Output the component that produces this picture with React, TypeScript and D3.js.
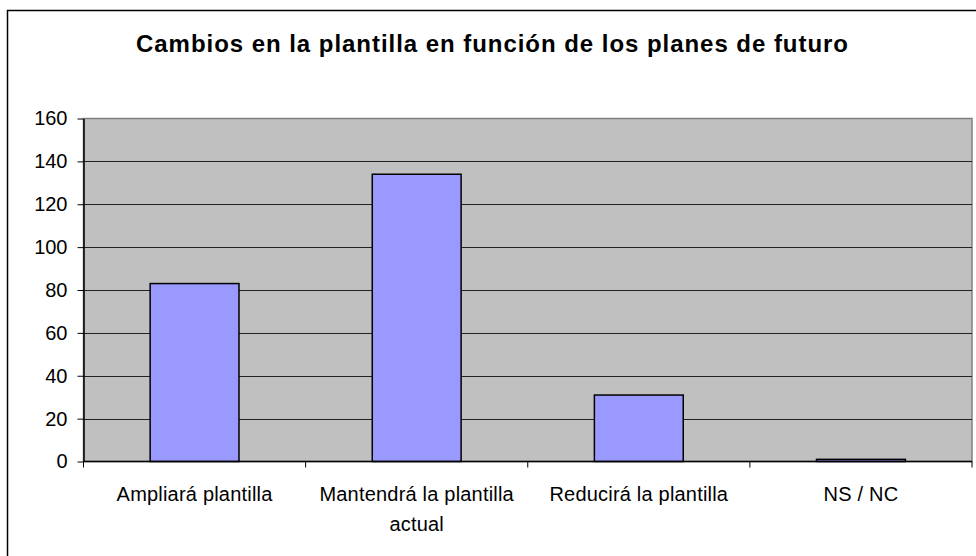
import { useEffect, useRef } from 'react'
import { select, scaleBand, scaleLinear, axisLeft } from 'd3'

// data
const categories = ['Ampliará plantilla', 'Mantendrá la plantilla actual', 'Reducirá la plantilla', 'NS / NC']
const values = [83, 134, 31, 1]
const yTicks = [0, 20, 40, 60, 80, 100, 120, 140, 160]
const title = 'Cambios en la plantilla en función de los planes de futuro'

const W = 976
const H = 556

export default function App() {
  const ref = useRef<SVGSVGElement>(null)

  useEffect(() => {
    const svg = select(ref.current)
    svg.selectAll('*').remove()

    const left = 83.5, right = 972, top = 118.5, bottom = 461.5

    const x = scaleBand<string>().domain(categories).range([left, right]).padding(0)
    const y = scaleLinear().domain([0, 160]).range([bottom, top])

    // outer chart border
    svg.append('rect')
      .attr('x', 7.5).attr('y', 10.5)
      .attr('width', W + 10).attr('height', H + 10)
      .attr('fill', '#fff').attr('stroke', '#000').attr('stroke-width', 1.5)

    svg.append('text')
      .attr('x', 492).attr('y', 52)
      .attr('text-anchor', 'middle')
      .attr('font-weight', 'bold')
      .attr('font-size', 24)
      .attr('textLength', 712)
      .attr('lengthAdjust', 'spacing')
      .text(title)

    // plot area
    svg.append('rect')
      .attr('x', left).attr('y', top)
      .attr('width', right - left).attr('height', bottom - top)
      .attr('fill', '#C0C0C0').attr('stroke', '#808080').attr('stroke-width', 1.5)

    svg.append('g')
      .selectAll('line')
      .data(yTicks.slice(1, -1))
      .join('line')
      .attr('x1', left).attr('x2', right)
      .attr('y1', d => Math.round(y(d)) + 0.5).attr('y2', d => Math.round(y(d)) + 0.5)
      .attr('stroke', '#222').attr('stroke-width', 1)

    svg.append('g')
      .selectAll('rect')
      .data(values)
      .join('rect')
      .attr('x', (d, i) => x(categories[i])! + x.bandwidth() * 0.3)
      .attr('width', x.bandwidth() * 0.4)
      .attr('y', d => y(d))
      .attr('height', d => bottom - y(d))
      .attr('fill', '#9999FF')
      .attr('stroke', '#000').attr('stroke-width', 1.5)

    // y axis
    const ya = svg.append('g')
      .attr('transform', `translate(${left},0)`)
      .call(axisLeft(y).tickValues(yTicks).tickSize(6).tickPadding(10).tickSizeOuter(0))
    ya.select('.domain').attr('stroke', '#000').attr('stroke-width', 1.5)
    ya.selectAll('.tick line').attr('stroke', '#000')
    ya.selectAll('text').attr('font-size', 20).attr('font-family', 'Liberation Sans, Arial, sans-serif')
      .attr('fill', '#000')

    // x axis with ticks on category boundaries
    const xa = svg.append('g')
      .attr('transform', `translate(0,${bottom})`)
    xa.append('line')
      .attr('x1', left).attr('x2', right).attr('stroke', '#000').attr('stroke-width', 1.5)
    xa.selectAll('line.tk')
      .data([...categories.map(c => x(c)!), right])
      .join('line')
      .attr('class', 'tk')
      .attr('x1', d => d).attr('x2', d => d)
      .attr('y1', 0).attr('y2', 6)
      .attr('stroke', '#000')

    const labels = xa.selectAll('text')
      .data(categories)
      .join('text')
      .attr('x', d => x(d)! + x.bandwidth() / 2)
      .attr('y', 39)
      .attr('text-anchor', 'middle')
      .attr('font-size', 20)
      .attr('letter-spacing', 0.2)
      .text(d => d)
    labels.call(wrap, 210)

    function wrap(text: any, width: number) {
      text.each(function (this: SVGTextElement) {
        const t = select(this)
        const words = t.text().split(/\s+/).reverse()
        const cx = t.attr('x')
        let line: string[] = []
        let tspan = t.text(null).append('tspan').attr('x', cx).attr('dy', 0)
        let word = words.pop()
        while (word) {
          line.push(word)
          tspan.text(line.join(' '))
          if ((tspan.node() as SVGTSpanElement).getComputedTextLength() > width && line.length > 1) {
            line.pop()
            tspan.text(line.join(' '))
            line = [word]
            tspan = t.append('tspan').attr('x', cx).attr('dy', 30).text(word)
          }
          word = words.pop()
        }
      })
    }
  }, [])

  return (
    <svg ref={ref} width={W} height={H}
      style={{ position: 'absolute', left: 0, top: 0, fontFamily: 'Liberation Sans, Arial, sans-serif' }} />
  )
}
